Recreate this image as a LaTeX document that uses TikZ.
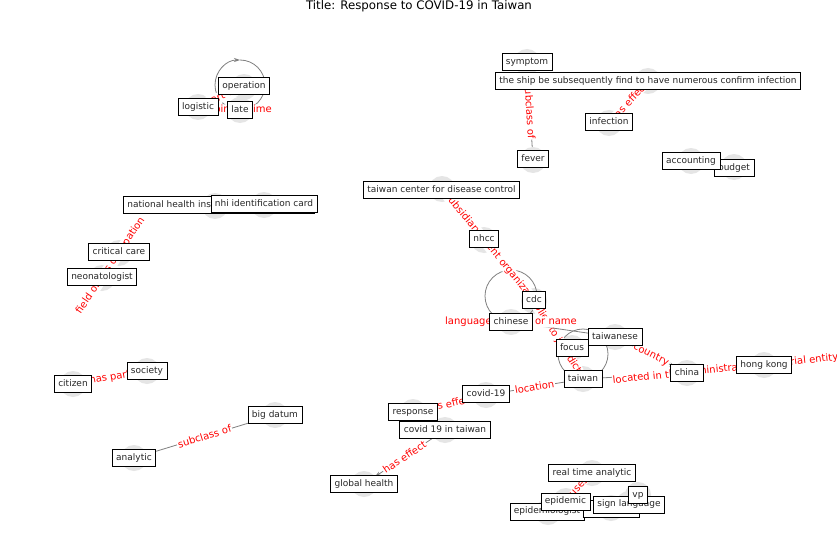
\documentclass[tikz,border=0pt]{standalone}
\usepackage{fontspec}
\setmainfont{DejaVu Sans}
\usetikzlibrary{arrows.meta}
\tikzset{
 dot/.style={circle, fill=gray!20, minimum size=26pt, inner sep=0pt},
 box/.style={draw=black, fill=white, line width=0.7pt, inner xsep=4pt, inner ysep=4pt, font=\fontsize{9}{10}\selectfont, text height=6.8pt, text depth=1.9pt, text=black!85},
 edge/.style={draw=gray, line width=0.8pt, -{Stealth[length=6pt,width=4pt]}},
 plainedge/.style={draw=gray, line width=0.8pt},
 elab/.style={text=red, fill=white, inner sep=0.8pt, rounded corners=2pt, font=\fontsize{10}{11}\selectfont, sloped},
 llab/.style={text=red, fill=white, inner sep=0.8pt, rounded corners=2pt, font=\fontsize{10}{11}\selectfont}
}
\begin{document}
\begin{tikzpicture}[x=1pt,y=-1pt]
\useasboundingbox[fill=white] (0,0) rectangle (837,559);
\node[font=\fontsize{11.8}{13}\selectfont] (title) at (419,6) {Title: Response to COVID-19 in Taiwan};
% node circles
\node[dot] (symptom) at (527,62) {};
\node[dot] (ship) at (648,81) {};
\node[dot] (infection) at (609,123) {};
\node[dot] (fever) at (533,160) {};
\node[dot] (accounting) at (691,161) {};
\node[dot] (budget) at (734,167) {};
\node[dot] (operation) at (244,87) {};
\node[dot] (logistic) at (198,107) {};
\node[dot] (late) at (240,110) {};
\node[dot] (nhia) at (215,206) {};
\node[dot] (nhicard) at (264,205) {};
\node[dot] (critical) at (119,253) {};
\node[dot] (neonat) at (102,278) {};
\node[dot] (tcdc) at (442,189) {};
\node[dot] (nhcc) at (484,240) {};
\node[dot] (cdc) at (534,301) {};
\node[dot] (chinese) at (511,322) {};
\node[dot] (taiwanese) at (615,337) {};
\node[dot] (focus) at (572,348) {};
\node[dot] (taiwan) at (583,379) {};
\node[dot] (china) at (687,373) {};
\node[dot] (hongkong) at (764,365) {};
\node[dot] (covid) at (486,395) {};
\node[dot] (response) at (413,412) {};
\node[dot] (covidtw) at (445,430) {};
\node[dot] (global) at (364,484) {};
\node[dot] (society) at (147,371) {};
\node[dot] (citizen) at (73,384) {};
\node[dot] (bigdatum) at (275,415) {};
\node[dot] (analytic) at (134,458) {};
\node[dot] (rta) at (592,473) {};
\node[dot] (epidemic) at (566,501) {};
\node[dot] (epidemiologist) at (548,512) {};
\node[dot] (hidden) at (611,508) {};
\node[dot] (sign) at (629,504) {};
\node[dot] (vp) at (638,495) {};
% self loops
\draw[edge] (late.center) arc[start angle=270, end angle=90, radius=25pt];
\draw[plainedge] (late.center) arc[start angle=-90, end angle=90, radius=25pt];
\draw[plainedge] (chinese.center) arc[start angle=270, end angle=-90, radius=26pt];
\draw[plainedge] (taiwan.center) arc[start angle=270, end angle=-90, radius=25pt];
% edges
\draw[edge] (operation) -- node[elab]{part of} (logistic);
\draw[edge] (fever) -- node[elab]{subclass of} (symptom);
\draw[edge] (ship) -- node[elab]{has effect} (infection);
\draw[edge] (critical) -- node[elab]{field of this occupation} (neonat);
\draw[edge] (nhcc) -- node[elab]{subsidiary} (tcdc);
\draw[edge] (nhcc) -- node[elab]{parent organization} (cdc);
\draw[edge] (cdc) -- node[elab]{applies to jurisdiction} (taiwan);
\draw[edge] (chinese) -- (taiwanese);
\draw[edge] (taiwanese) -- node[elab]{country} (china);
\draw[edge] (taiwan) -- (china);
\draw[edge] (hongkong) -- node[elab]{located in the administrative territorial entity} (china);
\draw[edge] (covid) -- node[elab]{location} (taiwan);
\draw[edge] (covid) -- node[elab]{has effect} (response);
\draw[edge] (covidtw) -- node[elab]{has effect} (global);
\draw[edge] (society) -- node[elab]{has part} (citizen);
\draw[edge] (analytic) -- node[elab]{subclass of} (bigdatum);
\draw[edge] (rta) -- node[elab]{uses} (epidemic);
% self-loop labels
\node[llab] (latelab) at (late) {point in time};
\node[llab] (chineselab) at (chinese) {language of work or name};
% label boxes
\node[box] (b-symptom) at (symptom) {symptom};
\node[box] (b-ship) at (ship) {the ship be subsequently find to have numerous confirm infection};
\node[box] (b-infection) at (609,122) {infection};
\node[box] (b-fever) at (533,159) {fever};
\node[box] (b-budget) at (734,168) {budget};
\node[box] (b-accounting) at (accounting) {accounting};
\node[box] (b-operation) at (244,86) {operation};
\node[box] (b-logistic) at (logistic) {logistic};
\node[box] (b-late) at (late) {late};
\node[box, anchor=west] (b-nhia) at (123,205) {national health insurance administration};
\node[box] (b-nhicard) at (264,204) {nhi identification card};
\node[box] (b-critical) at (119,252) {critical care};
\node[box] (b-neonat) at (102,277) {neonatologist};
\node[box] (b-tcdc) at (441.5,190) {taiwan center for disease control};
\node[box] (b-nhcc) at (484,239) {nhcc};
\node[box] (b-cdc) at (534,300) {cdc};
\node[box] (b-chinese) at (chinese) {chinese};
\node[box] (b-taiwanese) at (taiwanese) {taiwanese};
\node[box] (b-focus) at (focus) {focus};
\node[box] (b-taiwan) at (taiwan) {taiwan};
\node[box] (b-china) at (china) {china};
\node[box] (b-hongkong) at (hongkong) {hong kong};
\node[box] (b-covid) at (486,394) {covid-19};
\node[box] (b-response) at (response) {response};
\node[box] (b-covidtw) at (covidtw) {covid 19 in taiwan};
\node[box] (b-global) at (global) {global health};
\node[box] (b-society) at (society) {society};
\node[box] (b-citizen) at (citizen) {citizen};
\node[box] (b-bigdatum) at (bigdatum) {big datum};
\node[box] (b-analytic) at (analytic) {analytic};
\node[box] (b-rta) at (rta) {real time analytic};
\node[box] (b-epidemiologist) at (547,511.5) {epidemiologist};
\node[box, minimum width=56pt] (b-hidden) at (611,508.5) {};
\node[box] (b-epidemic) at (565.5,501.5) {epidemic};
\node[box] (b-sign) at (629,504.5) {sign language};
\node[box] (b-vp) at (638,495) {vp};
\end{tikzpicture}
\end{document}
